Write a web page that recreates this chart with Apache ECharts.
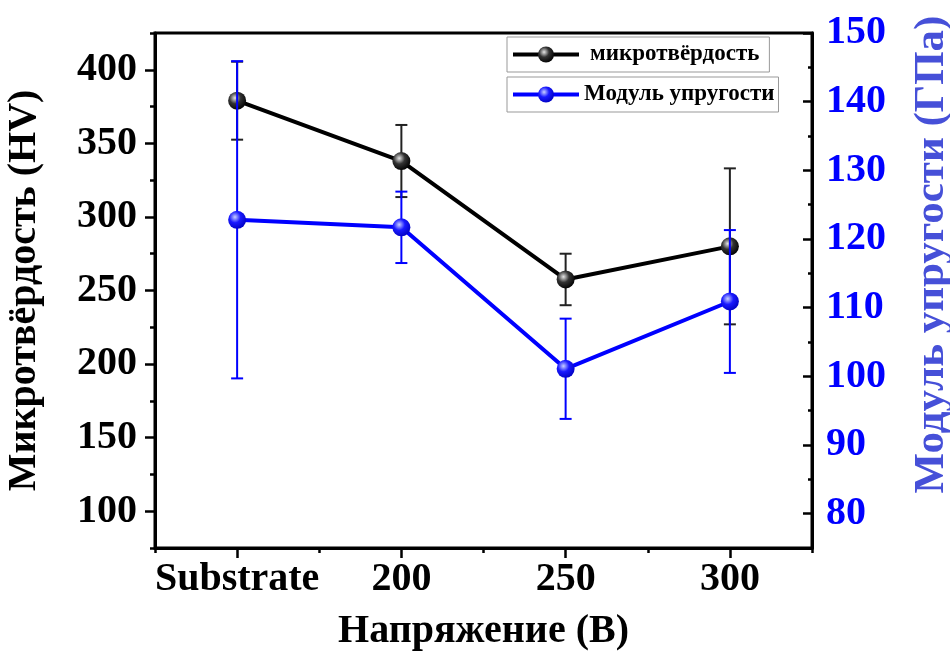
<!DOCTYPE html>
<html>
<head>
<meta charset="utf-8">
<script src="https://cdn.jsdelivr.net/npm/echarts@6/dist/echarts.min.js"></script>
<style>html,body{margin:0;padding:0;background:#fff}#c{width:950px;height:657px}</style>
</head>
<body>
<div id="c"></div>
<script>
const categories = ['Substrate', '200', '250', '300'];
const hardness = [379, 338, 257.5, 280];
const hardnessErr = [26.5, 24.5, 17.5, 53];
const modulus = [122.8, 121.7, 101.1, 110.9];
const modulusErr = [23.1, 5.2, 7.3, 10.4];
const leftTicks = [100, 150, 200, 250, 300, 350, 400];
const leftMinor = [75, 125, 175, 225, 275, 325, 375, 425];
const rightTicks = [80, 90, 100, 110, 120, 130, 140, 150];
const rightMinor = [75, 85, 95, 105, 115, 125, 135, 145];

const FONT = "'Liberation Serif', 'Times New Roman', serif";
const chart = echarts.init(document.getElementById('c'));

function ball(hi, mid, dark) {
  return {type: 'radial', x: 0.38, y: 0.35, r: 0.7,
    colorStops: [{offset: 0, color: hi}, {offset: 0.45, color: mid}, {offset: 1, color: dark}]};
}
function errRender(color) {
  return function (params, api) {
    const i = api.value(0);
    const lo = api.coord([i, api.value(1)]);
    const hi = api.coord([i, api.value(2)]);
    const w = 6;
    const st = {stroke: color, lineWidth: 2};
    return {type: 'group', children: [
      {type: 'line', shape: {x1: lo[0], y1: lo[1], x2: hi[0], y2: hi[1]}, style: st},
      {type: 'line', shape: {x1: lo[0] - w, y1: lo[1], x2: lo[0] + w, y2: lo[1]}, style: st},
      {type: 'line', shape: {x1: hi[0] - w, y1: hi[1], x2: hi[0] + w, y2: hi[1]}, style: st}
    ]};
  };
}
const hardErrData = categories.map((c, i) => [i, hardness[i] - hardnessErr[i], hardness[i] + hardnessErr[i]]);
const modErrData = categories.map((c, i) => [i, modulus[i] - modulusErr[i], modulus[i] + modulusErr[i]]);

const labelStyle = {fontFamily: FONT, fontWeight: 'bold', fontSize: 40};
const legendText = {fontFamily: FONT, fontWeight: 'bold', fontSize: 23, color: '#000'};

chart.setOption({
  animation: false,
  backgroundColor: '#fff',
  grid: {left: 155, right: 138, top: 33, bottom: 109, show: true, borderColor: '#000', borderWidth: 3,
         backgroundColor: 'transparent', containLabel: false, outerBoundsMode: 'none'},
  legend: [
    {data: ['микротвёрдость'], left: 507, top: 37, orient: 'horizontal', padding: [6, 10, 6, 4],
     borderColor: '#999', borderWidth: 1, itemWidth: 66, itemHeight: 20,
     lineStyle: {width: 4}, textStyle: Object.assign({padding: [0, 0, 0, 6]}, legendText)},
    {data: ['Модуль упругости'], left: 507, top: 77, orient: 'horizontal', padding: [6, 4, 6, 4],
     borderColor: '#999', borderWidth: 1, itemWidth: 66, itemHeight: 20,
     lineStyle: {width: 4}, textStyle: legendText}
  ],
  xAxis: [
    {type: 'category', data: categories, boundaryGap: true, position: 'bottom',
     axisLine: {show: true, onZero: false, lineStyle: {color: '#000', width: 3}},
     axisTick: {show: true, inside: false, alignWithLabel: true, interval: 0, length: 10, lineStyle: {color: '#000', width: 2.5}},
     axisLabel: Object.assign({color: '#000', margin: 12, interval: 0}, labelStyle),
     name: 'Напряжение (В)', nameLocation: 'middle', nameGap: 64,
     nameTextStyle: Object.assign({color: '#000'}, labelStyle)},
    {type: 'category', data: categories, boundaryGap: true, position: 'bottom',
     axisLine: {show: false, onZero: false},
     axisTick: {show: true, inside: false, interval: 0, length: 5, lineStyle: {color: '#000', width: 2.5}},
     axisLabel: {show: false}}
  ],
  yAxis: [
    {type: 'value', min: 75, max: 425, position: 'left',
     axisLine: {show: true, lineStyle: {color: '#000', width: 3}},
     axisTick: {show: true, customValues: leftTicks, length: 10, lineStyle: {color: '#000', width: 2.5}},
     axisLabel: Object.assign({color: '#000', margin: 18, customValues: leftTicks}, labelStyle),
     splitLine: {show: false},
     name: 'Микротвёрдость (HV)', nameLocation: 'middle', nameGap: 110, nameRotate: 90,
     nameTextStyle: Object.assign({color: '#000'}, labelStyle)},
    {type: 'value', min: 75, max: 150, position: 'right',
     axisLine: {show: true, lineStyle: {color: '#000', width: 3}},
     axisTick: {show: true, inside: true, customValues: rightTicks, length: 9, lineStyle: {color: '#000', width: 2.5}},
     axisLabel: Object.assign({color: '#0000ff', margin: 14, customValues: rightTicks}, labelStyle),
     splitLine: {show: false},
     name: 'Модуль упругости (ГПа)', nameLocation: 'middle', nameGap: 98, nameRotate: 90,
     nameTextStyle: Object.assign({color: '#4650d8', padding: [0, 0, 0, 72]}, labelStyle, {fontSize: 43})},
    {type: 'value', min: 75, max: 425, position: 'left',
     axisLine: {show: false},
     axisTick: {show: true, customValues: leftMinor, length: 5, lineStyle: {color: '#000', width: 2.5}},
     axisLabel: {show: false}, splitLine: {show: false}},
    {type: 'value', min: 75, max: 150, position: 'right',
     axisLine: {show: false},
     axisTick: {show: true, inside: true, customValues: rightMinor, length: 4, lineStyle: {color: '#000', width: 2.5}},
     axisLabel: {show: false}, splitLine: {show: false}}
  ],
  series: [
    {type: 'custom', name: 'hardErr', xAxisIndex: 0, yAxisIndex: 0, data: hardErrData,
     renderItem: errRender('#222'), z: 1, silent: true},
    {type: 'line', name: 'микротвёрдость', xAxisIndex: 0, yAxisIndex: 0, data: hardness, z: 2,
     symbol: 'circle', symbolSize: 18,
     lineStyle: {color: '#000', width: 4},
     itemStyle: {color: ball('#e6e6e6', '#333', '#000'), borderWidth: 0}},
    {type: 'custom', name: 'modErr', xAxisIndex: 0, yAxisIndex: 1, data: modErrData,
     renderItem: errRender('#0000ff'), z: 3, silent: true},
    {type: 'line', name: 'Модуль упругости', xAxisIndex: 0, yAxisIndex: 1, data: modulus, z: 4,
     symbol: 'circle', symbolSize: 18,
     lineStyle: {color: '#0000ff', width: 4},
     itemStyle: {color: ball('#c8d0ff', '#1a1aff', '#0000c0'), borderWidth: 0}}
  ]
});
</script>
</body>
</html>
